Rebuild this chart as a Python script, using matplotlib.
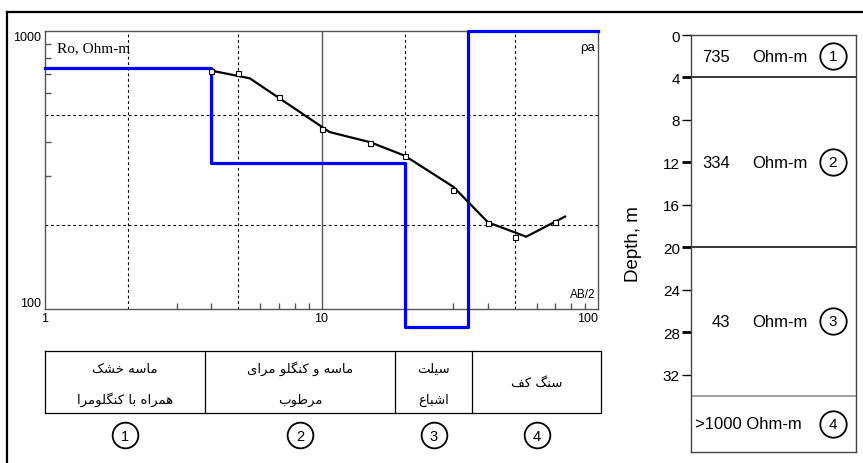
import matplotlib
matplotlib.use('Agg')
import matplotlib.pyplot as plt
from matplotlib.patches import Rectangle
from matplotlib.ticker import FixedLocator, NullFormatter

# -------------------------------------------------------------------------------------------------------------------- #
# Data
# -------------------------------------------------------------------------------------------------------------------- #

# Measured apparent resistivity (open squares)
ab2 = [4, 5, 7, 10, 15, 20, 30, 40, 50, 70]
rho_obs = [720, 705, 581, 445, 395, 354, 268, 204, 181, 206]

# Fitted curve (black line)
fit_ab2 = [4, 5.5, 10.7, 15, 20, 30, 40, 55, 76]
fit_rho = [720, 676, 433, 398, 356, 275, 205, 182, 215]

# Layer model
layer_top = [0, 4, 20, 34]
layer_rho = [735, 334, 43, 3000]          # last layer is >1000, off scale
layer_rho_txt = ['735', '334', '43', '>1000']
layer_num = ['1', '2', '3', '4']
layer_desc = [['ماسه خشک', 'همراه با کنگلومرا'],
              ['ماسه و کنگلو مرای', 'مرطوب'],
              ['سیلت', 'اشباع'],
              ['سنگ کف']]

depth_ticks = [0, 4, 8, 12, 16, 20, 24, 28, 32]
depth_max = 39.3

# -------------------------------------------------------------------------------------------------------------------- #
# Persian shaping (matplotlib does no Arabic joining / RTL)
# -------------------------------------------------------------------------------------------------------------------- #

FORMS = {  # isolated, final, initial, medial
    'ا': ('\uFE8D', '\uFE8E', None, None),
    'ب': ('\uFE8F', '\uFE90', '\uFE91', '\uFE92'),
    'ت': ('\uFE95', '\uFE96', '\uFE97', '\uFE98'),
    'خ': ('\uFEA5', '\uFEA6', '\uFEA7', '\uFEA8'),
    'ر': ('\uFEAD', '\uFEAE', None, None),
    'س': ('\uFEB1', '\uFEB2', '\uFEB3', '\uFEB4'),
    'ش': ('\uFEB5', '\uFEB6', '\uFEB7', '\uFEB8'),
    'ط': ('\uFEC1', '\uFEC2', '\uFEC3', '\uFEC4'),
    'ع': ('\uFEC9', '\uFECA', '\uFECB', '\uFECC'),
    'ف': ('\uFED1', '\uFED2', '\uFED3', '\uFED4'),
    'ل': ('\uFEDD', '\uFEDE', '\uFEDF', '\uFEE0'),
    'م': ('\uFEE1', '\uFEE2', '\uFEE3', '\uFEE4'),
    'ن': ('\uFEE5', '\uFEE6', '\uFEE7', '\uFEE8'),
    'ه': ('\uFEE9', '\uFEEA', '\uFEEB', '\uFEEC'),
    'و': ('\uFEED', '\uFEEE', None, None),
    'ک': ('\uFB8E', '\uFB8F', '\uFB90', '\uFB91'),
    'گ': ('\uFB92', '\uFB93', '\uFB94', '\uFB95'),
    'ی': ('\uFBFC', '\uFBFD', '\uFBFE', '\uFBFF'),
}


def dual(c):
    return c in FORMS and FORMS[c][2] is not None


def shape(text):
    out = []
    for i, c in enumerate(text):
        if c not in FORMS:
            out.append(c)
            continue
        prev = text[i - 1] if i > 0 else ''
        nxt = text[i + 1] if i + 1 < len(text) else ''
        jp = dual(prev)
        jn = dual(c) and nxt in FORMS
        iso, fin, ini, med = FORMS[c]
        if jp and jn:
            out.append(med)
        elif jp:
            out.append(fin)
        elif jn:
            out.append(ini)
        else:
            out.append(iso)
    return ''.join(reversed(out))


# -------------------------------------------------------------------------------------------------------------------- #
# Figure
# -------------------------------------------------------------------------------------------------------------------- #

plt.rcParams['font.family'] = ['Liberation Sans', 'DejaVu Sans']
W, H = 863, 464
fig = plt.figure(figsize=(W / 100, H / 100), dpi=100, facecolor='white')


def px_axes(x0, y0, x1, y1):
    return [x0 / W, 1 - y1 / H, (x1 - x0) / W, (y1 - y0) / H]


# overlay in pixel units for frame / table
ov = fig.add_axes([0, 0, 1, 1])
ov.set_xlim(0, W)
ov.set_ylim(H, 0)
ov.axis('off')

ov.plot([7, 862], [13, 13], color='black', lw=1.6, clip_on=False)
ov.plot([7, 7], [13, H], color='black', lw=1.6, clip_on=False)

# ---- sounding curve ----
ax = fig.add_axes(px_axes(45, 32, 598, 310))
ax.set_xscale('log')
ax.set_yscale('log')
ax.set_xlim(1, 100)
ax.set_ylim(100, 1000)

for s in ax.spines.values():
    s.set_color('#555555')
    s.set_linewidth(1.0)

grid_kw = dict(color='black', lw=0.8, ls=(0, (2.5, 2.5)), zorder=1)
for gx in [2, 5, 20, 50]:
    ax.axvline(gx, **grid_kw)
for gy in [200, 500]:
    ax.axhline(gy, **grid_kw)
ax.axvline(10, color='#555555', lw=1.0, zorder=1)

# model is clamped to the drawing window (top of axes, a little below the bottom)
rho_lo = 100 * 10 ** (-0.065)
rho_hi = 1000
step_x = [1] + layer_top[1:] + [100]
step_y = [min(max(r, rho_lo), rho_hi) for r in layer_rho + [layer_rho[-1]]]
blue, = ax.step(step_x, step_y, where='post', color='#0000ff', lw=2.3, zorder=3, clip_on=False)

ax.plot(fit_ab2, fit_rho, color='black', lw=1.6, zorder=4)
ax.plot(ab2, rho_obs, ls='none', marker='s', ms=3.6, mfc='white', mec='black', mew=0.8, zorder=5)

ax.xaxis.set_major_locator(FixedLocator([1, 10, 100]))
ax.set_xticklabels(['1', '10', '100'])
ax.yaxis.set_major_locator(FixedLocator([100, 1000]))
ax.set_yticklabels(['100', '1000'])
ax.xaxis.set_minor_locator(FixedLocator([3, 4, 6, 7, 8, 9, 30, 40, 60, 70, 80, 90]))
ax.yaxis.set_minor_locator(FixedLocator([300, 400, 600, 700, 800, 900]))
ax.xaxis.set_minor_formatter(NullFormatter())
ax.yaxis.set_minor_formatter(NullFormatter())
ax.tick_params(which='major', length=0, labelsize=9, pad=2.5)
ax.tick_params(which='minor', direction='in', length=4, color='#555555', width=1.0)
ax.yaxis.get_major_ticks()[0].label1.set_va('bottom')
ax.yaxis.get_major_ticks()[1].label1.set_va('top')
ax.xaxis.get_major_ticks()[2].label1.set_ha('right')

ax.text(0.022, 0.928, 'Ro, Ohm-m', transform=ax.transAxes, family='Liberation Serif',
        fontsize=11, va='baseline', ha='left')
ax.text(0.995, 0.932, 'ρa', transform=ax.transAxes, fontsize=9.5, va='baseline', ha='right')
ax.text(0.995, 0.043, 'AB/2', transform=ax.transAxes, fontsize=8.5, va='baseline', ha='right')

# ---- lithology table ----
col_edges = [45, 205, 395, 472, 601]
tab_top, tab_bot = 352, 414
ov.plot([col_edges[0], col_edges[-1], col_edges[-1], col_edges[0], col_edges[0]],
        [tab_top, tab_top, tab_bot, tab_bot, tab_top], color='black', lw=0.9)
for e in col_edges[1:-1]:
    ov.plot([e, e], [tab_top, tab_bot], color='black', lw=0.9)
for i, desc in enumerate(layer_desc):
    cx = (col_edges[i] + col_edges[i + 1]) / 2
    if len(desc) == 1:
        ov.text(cx, 383, shape(desc[0]), ha='center', va='center', fontsize=9.5, family=['DejaVu Sans'])
    else:
        ov.text(cx, 369, shape(desc[0]), ha='center', va='center', fontsize=9.5, family=['DejaVu Sans'])
        ov.text(cx, 400, shape(desc[1]), ha='center', va='center', fontsize=9.5, family=['DejaVu Sans'])
    ov.plot(cx, 436, marker='o', ms=18.5, mfc='white', mec='black', mew=1.3)
    ov.text(cx, 437, layer_num[i], ha='center', va='center', fontsize=10.5)

# ---- depth column ----
dax = fig.add_axes(px_axes(691, 36, 856, 453))
dax.set_xlim(0, 1)
dax.set_ylim(depth_max, 0)
for s in dax.spines.values():
    s.set_color('#444444')
    s.set_linewidth(1.0)
dax.set_xticks([])
dax.set_yticks(depth_ticks)
dax.set_yticklabels([str(d) for d in depth_ticks])
dax.tick_params(axis='y', direction='out', length=6.5, width=1.0, labelsize=11, pad=1.5)
for d, t in zip(depth_ticks, dax.yaxis.get_major_ticks()):
    if d in (4, 12, 20, 28):
        t.tick1line.set_markeredgewidth(2.0)
    if d == 0:
        t.tick1line.set_color('#777777')
dax.set_ylabel('Depth, m', fontsize=13.5)
dax.yaxis.set_label_coords(-0.30, 0.5)

bounds = layer_top[1:]
for b in bounds:
    dax.axhline(b, color='#888888' if b == bounds[-1] else 'black', lw=1.1)

for i in range(len(layer_top)):
    top = layer_top[i]
    bot = layer_top[i + 1] if i + 1 < len(layer_top) else depth_max
    yc = (top + bot) / 2
    if len(layer_rho_txt[i]) > 3:
        dax.text(0.025, yc, layer_rho_txt[i] + ' Ohm-m', ha='left', va='center', fontsize=12)
    else:
        dax.text(0.236, yc, layer_rho_txt[i], ha='right', va='center', fontsize=12)
        dax.text(0.37, yc, 'Ohm-m', ha='left', va='center', fontsize=12)
    dax.plot(0.86, yc, marker='o', ms=19, mfc='white', mec='black', mew=1.3)
    dax.text(0.86, yc, layer_num[i], ha='center', va='center', fontsize=11)

fig.savefig('out.png', dpi=100, facecolor='white')
